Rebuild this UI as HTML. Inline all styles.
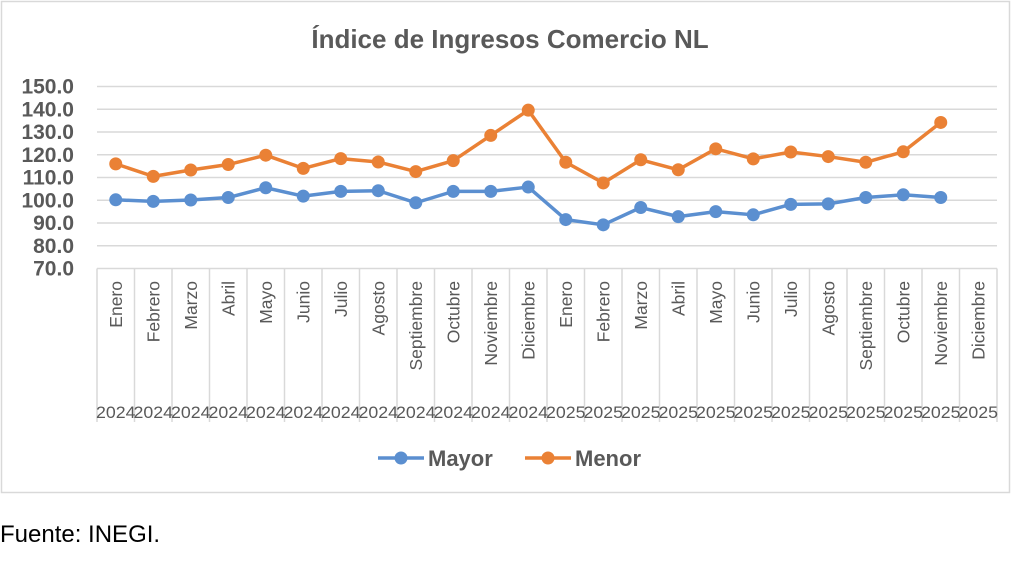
<!DOCTYPE html>
<html><head><meta charset="utf-8"><style>
body{margin:0;background:#fff;width:1024px;height:557px;overflow:hidden;font-family:"Liberation Sans",sans-serif}
</style></head><body>
<svg id="s" width="1024" height="557" xmlns="http://www.w3.org/2000/svg" font-family="Liberation Sans, sans-serif">
<rect x="1.5" y="1.5" width="1008" height="491" fill="#fff" stroke="#d9d9d9" stroke-width="1.5"/>
<text x="510" y="48" text-anchor="middle" font-size="26" font-weight="bold" fill="#595959">Índice de Ingresos Comercio NL</text>
<text x="0" y="542" font-size="24" fill="#000">Fuente: INEGI.</text>
<g id="g"></g>
</svg>
<script>
(function(){
var g=document.getElementById('g'),h='';
var x0=97,w=37.5,yTop=86.5,sc=2.275;
function Y(v){return yTop+(150-v)*sc;}
for(var v=70;v<=150;v+=10){var y=Y(v);h+='<line x1="'+x0+'" x2="997" y1="'+y+'" y2="'+y+'" stroke="#d9d9d9" stroke-width="1.5"/>';
h+='<text x="74" y="'+(y+7)+'" text-anchor="end" font-size="21" font-weight="bold" fill="#595959">'+v.toFixed(1)+'</text>';}
var m=["Enero","Febrero","Marzo","Abril","Mayo","Junio","Julio","Agosto","Septiembre","Octubre","Noviembre","Diciembre"];
for(var i=0;i<=24;i++){var x=x0+i*w;h+='<line x1="'+x+'" x2="'+x+'" y1="'+Y(70)+'" y2="422" stroke="#d9d9d9" stroke-width="1.5"/>';}
for(var i=0;i<24;i++){var cx=x0+i*w+w/2;
h+='<text transform="translate('+(cx+6)+',281) rotate(-90)" text-anchor="end" font-size="17.5" fill="#595959">'+m[i%12]+'</text>';
h+='<text x="'+cx+'" y="418" text-anchor="middle" font-size="17" fill="#595959" textLength="'+(w+2)+'" lengthAdjust="spacingAndGlyphs">'+(i<12?2024:2025)+'</text>';}
var A=[100.2,99.5,100.1,101.2,105.5,101.8,103.9,104.2,98.9,103.9,103.9,105.8,91.5,89.2,96.8,92.8,95.0,93.6,98.2,98.4,101.2,102.4,101.2];
var B=[116,110.5,113.3,115.7,119.8,114.0,118.3,116.8,112.6,117.4,128.5,139.6,116.7,107.6,117.8,113.4,122.6,118.2,121.2,119.2,116.7,121.3,134.2];
function ser(d,c){var p=d.map(function(v,i){return (x0+i*w+w/2)+','+Y(v)}).join(' ');
var s='<polyline points="'+p+'" fill="none" stroke="'+c+'" stroke-width="3.5" stroke-linejoin="round"/>';
d.forEach(function(v,i){s+='<circle cx="'+(x0+i*w+w/2)+'" cy="'+Y(v)+'" r="6.5" fill="'+c+'"/>';});return s;}
h+=ser(A,'#5b8fd0')+ser(B,'#ea8135');
h+='<line x1="378" x2="424" y1="458" y2="458" stroke="#5b8fd0" stroke-width="3.5"/><circle cx="401" cy="458" r="6.5" fill="#5b8fd0"/>';
h+='<text x="428" y="466" font-size="22" font-weight="bold" fill="#595959">Mayor</text>';
h+='<line x1="525" x2="571" y1="458" y2="458" stroke="#ea8135" stroke-width="3.5"/><circle cx="548" cy="458" r="6.5" fill="#ea8135"/>';
h+='<text x="575" y="466" font-size="22" font-weight="bold" fill="#595959">Menor</text>';
g.innerHTML=h;
})();
</script>
</body></html>
